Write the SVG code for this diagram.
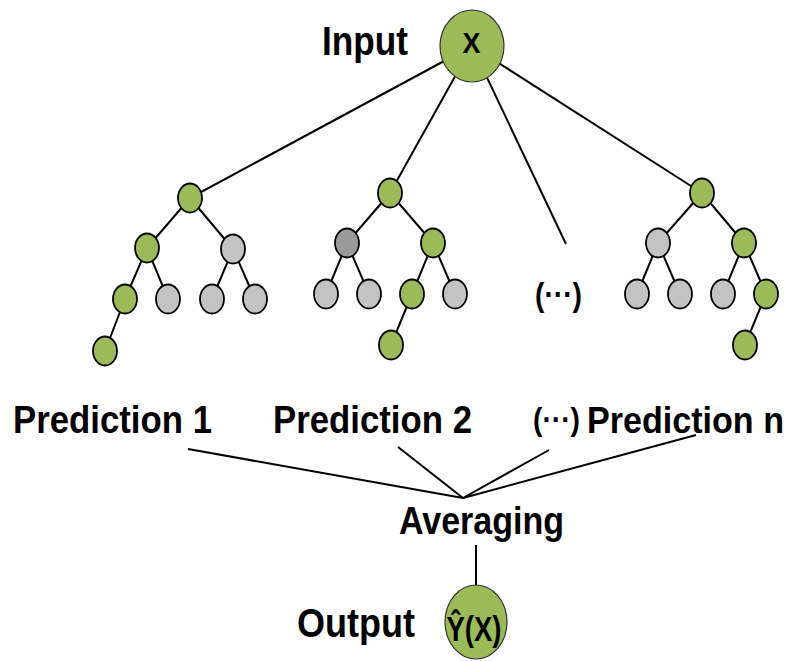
<svg xmlns="http://www.w3.org/2000/svg" width="799" height="661" viewBox="0 0 799 661">
<style>
.g{fill:#9bbb59;stroke:#000;stroke-width:1.8}
.s{fill:#c3c3c3;stroke:#000;stroke-width:1.8}
.d{fill:#9a9a9a;stroke:#000;stroke-width:1.8}
.b{fill:#9bbb59;stroke:#333;stroke-width:1.2}
.e{stroke:#000;stroke-width:2;fill:none}
.t{font-family:"Liberation Sans",Arial,sans-serif;font-weight:bold;fill:#000}
</style>
<rect width="799" height="661" fill="#fff"/>
<g id="connectors" class="e">
<line x1="472" y1="46" x2="190" y2="198"/>
<line x1="472" y1="46" x2="390" y2="193"/>
<line x1="472" y1="46" x2="566" y2="244"/>
<line x1="472" y1="46" x2="702" y2="193"/>
<path d="M190 198L147 248M190 198L233 249M147 248L125 299M147 248L168 299M233 249L212 299M233 249L255 299M125 299L105 351"/>
<path d="M390 193L347 243M390 193L433 243M347 243L326 294M347 243L369 294M433 243L412 294M433 243L455 294M412 294L391 345"/>
<path d="M702 193L658 243M702 193L744 243M658 243L637 294M658 243L680 294M744 243L723 294M744 243L766 294M766 294L745 345"/>
<path d="M188 449L463 498M398 447L463 498M549 450L463 498M696 435L463 498"/>
<line x1="476" y1="545" x2="476" y2="588"/>
</g>
<g id="input">
<ellipse class="b" cx="472" cy="46" rx="32" ry="36"/>
<text class="t" x="471.5" y="53" font-size="30" text-anchor="middle" textLength="18" lengthAdjust="spacingAndGlyphs">X</text>
<text class="t" x="322" y="55" font-size="41" textLength="86" lengthAdjust="spacingAndGlyphs">Input</text>
</g>
<g id="tree1">
<ellipse class="g" cx="190" cy="198" rx="12" ry="14.5"/>
<ellipse class="g" cx="147" cy="248" rx="12" ry="14.5"/>
<ellipse class="s" cx="233" cy="249" rx="12" ry="14.5"/>
<ellipse class="g" cx="125" cy="299" rx="12" ry="14.5"/>
<ellipse class="s" cx="168" cy="299" rx="12" ry="14.5"/>
<ellipse class="s" cx="212" cy="299" rx="12" ry="14.5"/>
<ellipse class="s" cx="255" cy="299" rx="12" ry="14.5"/>
<ellipse class="g" cx="105" cy="351" rx="12" ry="14.5"/>
</g>
<g id="tree2">
<ellipse class="g" cx="390" cy="193" rx="12" ry="14.5"/>
<ellipse class="d" cx="347" cy="243" rx="12" ry="14.5"/>
<ellipse class="g" cx="433" cy="243" rx="12" ry="14.5"/>
<ellipse class="s" cx="326" cy="294" rx="12" ry="14.5"/>
<ellipse class="s" cx="369" cy="294" rx="12" ry="14.5"/>
<ellipse class="g" cx="412" cy="294" rx="12" ry="14.5"/>
<ellipse class="s" cx="455" cy="294" rx="12" ry="14.5"/>
<ellipse class="g" cx="391" cy="345" rx="12" ry="14.5"/>
</g>
<g id="ellipsis-tree">
<text class="t" x="535" y="306" font-size="33" textLength="47" lengthAdjust="spacingAndGlyphs">(···)</text>
</g>
<g id="tree4">
<ellipse class="g" cx="702" cy="193" rx="12" ry="14.5"/>
<ellipse class="s" cx="658" cy="243" rx="12" ry="14.5"/>
<ellipse class="g" cx="744" cy="243" rx="12" ry="14.5"/>
<ellipse class="s" cx="637" cy="294" rx="12" ry="14.5"/>
<ellipse class="s" cx="680" cy="294" rx="12" ry="14.5"/>
<ellipse class="s" cx="723" cy="294" rx="12" ry="14.5"/>
<ellipse class="g" cx="766" cy="294" rx="12" ry="14.5"/>
<ellipse class="g" cx="745" cy="345" rx="12" ry="14.5"/>
</g>
<g id="predictions">
<text class="t" x="13" y="433" font-size="38" textLength="199" lengthAdjust="spacingAndGlyphs">Prediction 1</text>
<text class="t" x="273" y="433" font-size="38" textLength="199" lengthAdjust="spacingAndGlyphs">Prediction 2</text>
<text class="t" x="533" y="430" font-size="31" textLength="47" lengthAdjust="spacingAndGlyphs">(···)</text>
<text class="t" x="587" y="433" font-size="36.5" textLength="197" lengthAdjust="spacingAndGlyphs">Prediction n</text>
</g>
<g id="averaging">
<text class="t" x="399" y="534" font-size="38" textLength="165" lengthAdjust="spacingAndGlyphs">Averaging</text>
</g>
<g id="output">
<ellipse class="b" cx="476" cy="622" rx="31" ry="37"/>
<text class="t" x="474" y="641" font-size="35" text-anchor="middle" textLength="55" lengthAdjust="spacingAndGlyphs">Ŷ(X)</text>
<text class="t" x="297" y="637" font-size="40" textLength="118" lengthAdjust="spacingAndGlyphs">Output</text>
</g>
</svg>
